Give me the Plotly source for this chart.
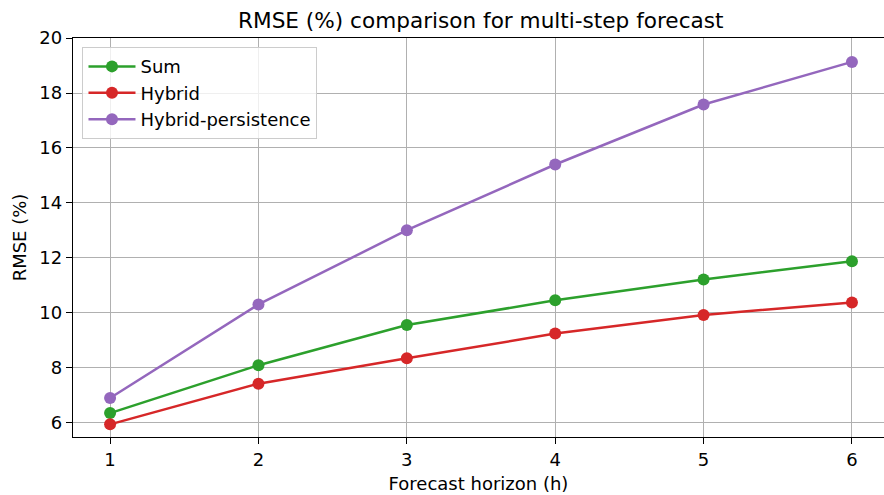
import plotly.graph_objects as go

horizons = [1, 2, 3, 4, 5, 6]
sum_vals = [6.36, 8.10, 9.56, 10.46, 11.22, 11.88]
hybrid_vals = [5.95, 7.43, 8.35, 9.25, 9.93, 10.38]
hybrid_persist_vals = [6.91, 10.31, 13.01, 15.40, 17.58, 19.13]

series = [
    ("Sum", sum_vals, "#2ca02c"),
    ("Hybrid", hybrid_vals, "#d62728"),
    ("Hybrid-persistence", hybrid_persist_vals, "#9467bd"),
]

fig = go.Figure()
for name, vals, color in series:
    fig.add_trace(go.Scatter(
        x=horizons, y=vals, name=name, mode="lines+markers",
        line=dict(color=color, width=2.5),
        marker=dict(color=color, size=12),
    ))

font_family = "DejaVu Sans"
fig.update_layout(
    width=884, height=495,
    margin=dict(l=72.5, r=0, t=38, b=58),
    paper_bgcolor="white", plot_bgcolor="white",
    font=dict(family=font_family, size=18, color="black"),
    title=dict(text="RMSE (%) comparison for multi-step forecast",
               x=(72.5 + 889) / 2 / 884, xanchor="center",
               y=1 - 20 / 495, yanchor="middle",
               font=dict(size=21.6, family=font_family)),
    showlegend=True,
    legend=dict(x=0.0117, y=0.977, xanchor="left", yanchor="top",
                bgcolor="rgba(255,255,255,0.8)", bordercolor="#cccccc",
                borderwidth=1, font=dict(size=18, family=font_family),
                itemwidth=47, tracegroupgap=2),
)
fig.update_xaxes(
    range=[0.75, 6.216], tickvals=horizons, ticktext=[str(h) for h in horizons],
    showgrid=True, gridcolor="#b0b0b0", gridwidth=1.2,
    showline=True, linecolor="black", linewidth=1.3, mirror=True,
    ticks="outside", ticklen=6, tickcolor="black", tickwidth=1.3,
    zeroline=False,
    title=dict(text="Forecast horizon (h)", standoff=8, font=dict(size=18)),
)
fig.update_yaxes(
    range=[5.49, 20.0], tickvals=[6, 8, 10, 12, 14, 16, 18, 20],
    showgrid=True, gridcolor="#b0b0b0", gridwidth=1.2,
    showline=True, linecolor="black", linewidth=1.3,
    ticks="outside", ticklen=6, tickcolor="black", tickwidth=1.3,
    zeroline=False,
    title=dict(text="RMSE (%)", standoff=8, font=dict(size=18)),
)

fig.write_html("out.html")
